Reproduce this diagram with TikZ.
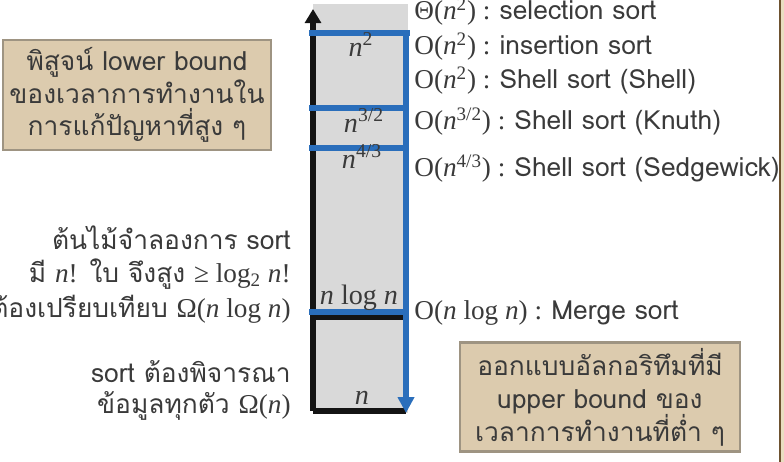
\documentclass[tikz,border=0pt]{standalone}
\usepackage{fontspec}
\setmainfont{Loma}[Script=Thai]
\newfontfamily\serifmath{Liberation Serif}
\usetikzlibrary{arrows.meta, positioning}
\definecolor{BoxTan}{HTML}{DCCBAE}
\definecolor{BoxEdge}{HTML}{9E9482}
\definecolor{CellGray}{HTML}{D9D9D9}
\definecolor{BoundBlue}{HTML}{2A6EBB}
\definecolor{InkGray}{HTML}{3A3A3A}
\definecolor{FrameBrown}{HTML}{6E5230}
\definecolor{FrameCream}{HTML}{E9DDC1}
\newcommand{\mt}[1]{{\serifmath\fontsize{15.5}{18.7}\selectfont #1}}
\newcommand{\vn}{\textit{n}}

\begin{document}
\begin{tikzpicture}[
  x=0.02cm, y=-0.02cm,
  font=\fontsize{15}{18.7}\selectfont,
  note/.style={rectangle, draw=BoxEdge, line width=1.2pt, fill=BoxTan,
               align=center, text=InkGray, inner sep=2pt},
  lbl/.style={anchor=base west, inner sep=0pt, text=InkGray},
  why/.style={anchor=base east, align=right, inner sep=0pt, text=InkGray},
  cell/.style={anchor=base, inner sep=0pt, text=InkGray, font=\fontsize{16}{18}\serifmath},
  axis/.style={line width=3.3pt, black!92},
  bound/.style={line width=3.3pt, BoundBlue},
]
\useasboundingbox (0,0) rectangle (784,462);

% slide frame at the right
\fill[FrameCream] (781,0) rectangle (784,462);
\draw[FrameBrown, line width=1.2pt] (780,0) -- (780,462);

% column of running times
\fill[CellGray] (313,4) rectangle (408,413);
\coordinate (base) at (313,411);
\coordinate (peak) at (313,9);
\coordinate (corner) at (406,411);
\coordinate (midL) at (313,317);
\coordinate (midR) at (406,317);

\draw[axis] (base) -- (corner);
\draw[axis] (midL) -- (midR);
\draw[axis, -{Triangle[width=9pt, length=8pt]}] (base) -- (peak);

\coordinate (b0L) at (309,33);  \coordinate (b0R) at (410,33);
\coordinate (b1L) at (309,108); \coordinate (b1R) at (406,108);
\coordinate (b2L) at (309,148); \coordinate (b2R) at (406,148);
\coordinate (b3L) at (309,312); \coordinate (b3R) at (406,312);
\coordinate (tip) at (406,413);

\draw[bound] (b0L) -- (b0R);
\draw[bound] (b1L) -- (b1R);
\draw[bound] (b2L) -- (b2R);
\draw[bound] (b3L) -- (b3R);
\draw[bound, -{Triangle[width=9pt, length=9pt]}] (406,30.2) -- (tip);

\node[cell] (c1) at (361,57)  {\vn\textsuperscript{2}};
\node[cell] (c2) at (364,133) {\vn\textsuperscript{3/2}};
\node[cell] (c3) at (362,169) {\vn\textsuperscript{4/3}};
\node[cell] (c4) at (359,305) {\vn\ log \vn};
\node[cell] (c5) at (362,404) {\vn};

% algorithms
\node[lbl] (sel) at (414,20)  {\mt{Θ(\vn\textsuperscript{2}) : }selection sort};
\node[lbl] (ins) at (414,55)  {\mt{O(\vn\textsuperscript{2}) : }insertion sort};
\node[lbl] (sh1) at (414,89)  {\mt{O(\vn\textsuperscript{2}) : }Shell sort (Shell)};
\node[lbl] (sh2) at (414,130) {\mt{O(\vn\textsuperscript{3/2}) : }Shell sort (Knuth)};
\node[lbl] (sh3) at (414,177) {\mt{O(\vn\textsuperscript{4/3}) : }Shell sort (Sedgewick)};
\node[lbl] (mrg) at (414,320) {\mt{O(\vn\ log \vn) : }Merge sort};

% lower bound reasons
\node[why] (tree1) at (291,250) {ต้นไม้จำลองการ sort};
\node[why] (tree2) at (291,283) {มี \mt{\vn!} ใบ จึงสูง \mt{≥ log\textsubscript{2} \vn!}};
\node[why] (tree3) at (291,317) {ต้องเปรียบเทียบ \mt{Ω(\vn\ log \vn)}};
\node[why] (all1) at (291,382) {sort ต้องพิจารณา};
\node[why] (all2) at (291,413) {ข้อมูลทุกตัว \mt{Ω(\vn)}};

% notes
\node[note, minimum width=5.36cm, minimum height=2.2cm] (lower) at (137,95)
  {พิสูจน์ lower bound\\ของเวลาการทำงานใน\\การแก้ปัญหาที่สูง ๆ};
\node[note, minimum width=5.6cm, minimum height=2.18cm] (upper) at (600,397)
  {ออกแบบอัลกอริทึมที่มี\\upper bound ของ\\เวลาการทำงานที่ต่ำ ๆ};

\end{tikzpicture}
\end{document}
